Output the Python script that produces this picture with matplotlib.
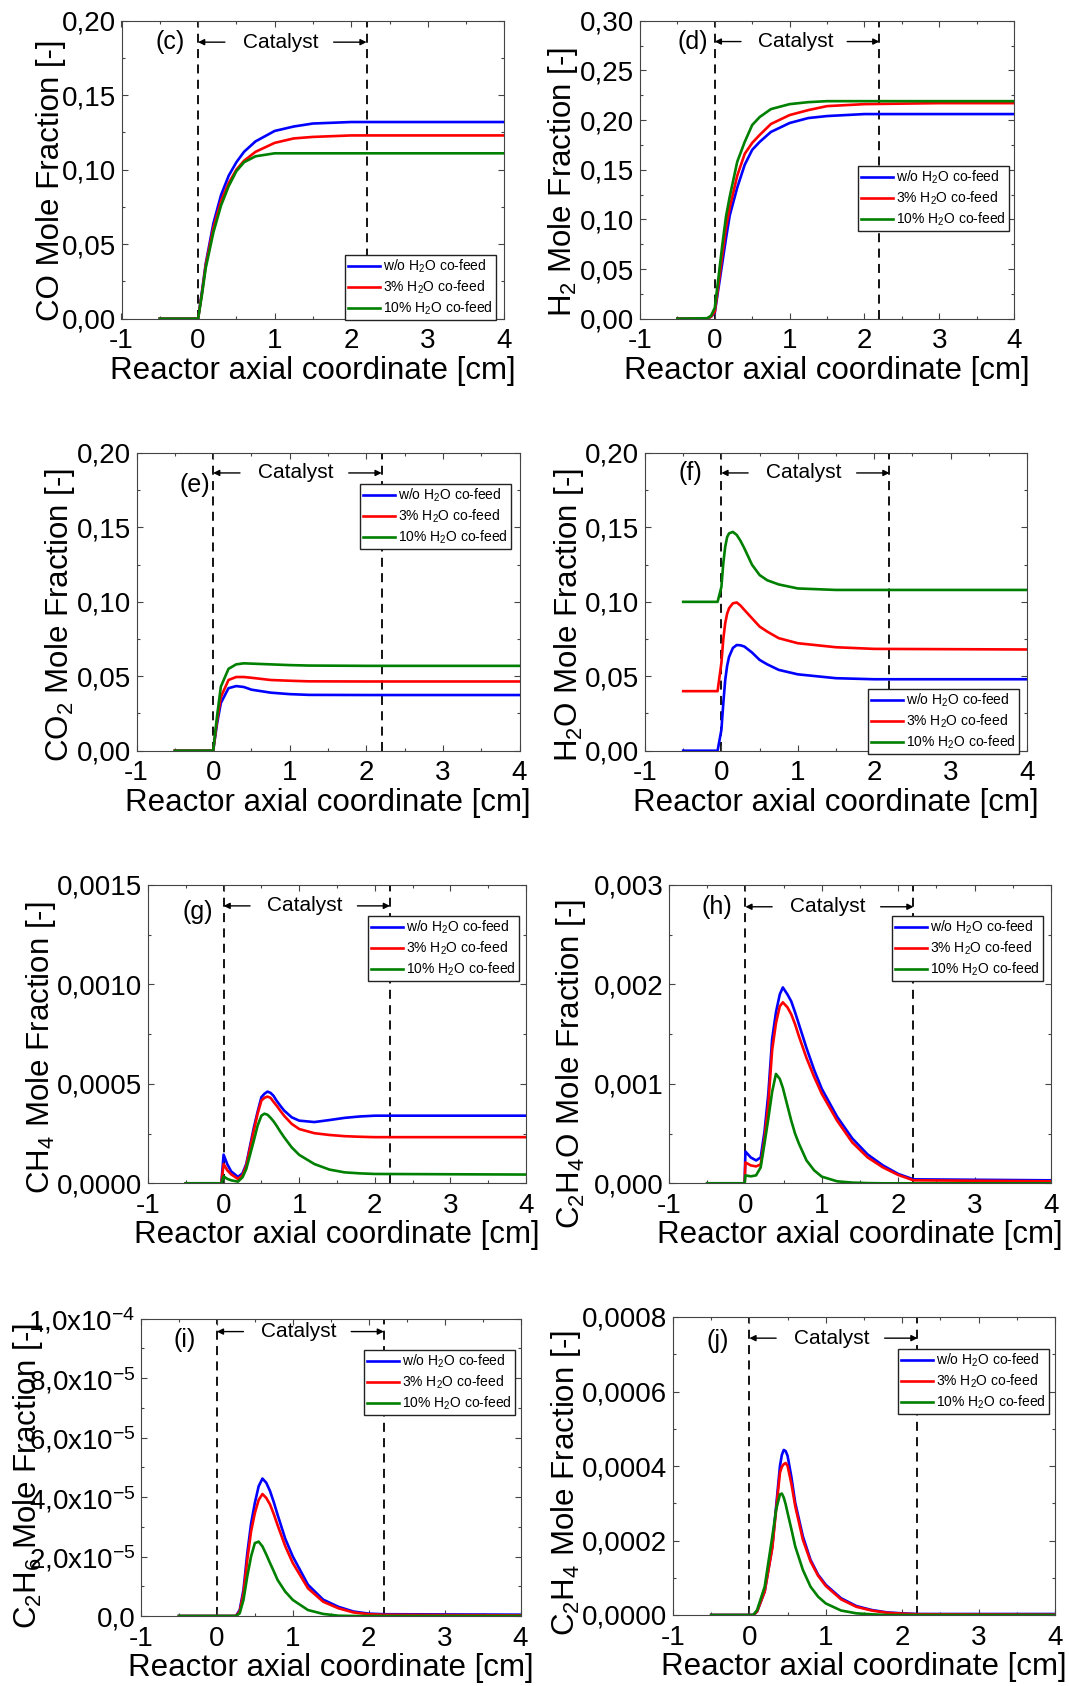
import numpy as np
import matplotlib
matplotlib.use('Agg')
import matplotlib.pyplot as plt
from matplotlib.ticker import MultipleLocator, FuncFormatter

plt.rcParams['font.family'] = ['Liberation Sans', 'DejaVu Sans']
plt.rcParams['mathtext.fontset'] = 'custom'
plt.rcParams['mathtext.rm'] = 'Liberation Sans'
plt.rcParams['mathtext.it'] = 'Liberation Sans:italic'
plt.rcParams['mathtext.bf'] = 'Liberation Sans:bold'
plt.rcParams['axes.unicode_minus'] = False

# %% Data
labels = ['w/o H$_2$O co-feed', '3% H$_2$O co-feed', '10% H$_2$O co-feed']
colors = ['#0000ff', '#ff0000', '#008000']

# (c) CO
x_co = [-0.5, 0, 0.05, 0.1, 0.2, 0.3, 0.4, 0.5, 0.6, 0.75, 1.0, 1.25, 1.5, 2.0, 3.0, 4.0]
co_wo = [0, 0, 0.018, 0.037, 0.064, 0.083, 0.096, 0.105, 0.112, 0.119, 0.126, 0.129, 0.131, 0.132, 0.132, 0.132]
co_3 = [0, 0, 0.017, 0.036, 0.061, 0.079, 0.091, 0.100, 0.106, 0.112, 0.118, 0.121, 0.122, 0.123, 0.123, 0.123]
co_10 = [0, 0, 0.016, 0.034, 0.058, 0.076, 0.089, 0.099, 0.105, 0.109, 0.111, 0.111, 0.111, 0.111, 0.111, 0.111]

# (d) H2
x_h2 = [-0.5, -0.1, -0.05, 0, 0.05, 0.1, 0.15, 0.2, 0.3, 0.4, 0.5, 0.6, 0.75, 1.0, 1.25, 1.5, 2.0, 3.0, 4.0]
h2_wo = [0, 0.0002, 0.002, 0.006, 0.031, 0.056, 0.081, 0.104, 0.132, 0.155, 0.170, 0.178, 0.188, 0.197, 0.202, 0.204, 0.206, 0.206, 0.206]
h2_3 = [0, 0.0003, 0.002, 0.007, 0.035, 0.064, 0.092, 0.112, 0.144, 0.166, 0.177, 0.185, 0.196, 0.205, 0.210, 0.214, 0.216, 0.217, 0.217]
h2_10 = [0, 0.0005, 0.003, 0.011, 0.042, 0.074, 0.103, 0.123, 0.158, 0.178, 0.195, 0.203, 0.211, 0.216, 0.218, 0.219, 0.219, 0.219, 0.219]

# (e) CO2
x_co2 = [-0.5, 0, 0.05, 0.1, 0.2, 0.3, 0.4, 0.5, 0.75, 1.0, 1.25, 2.0, 4.0]
co2_wo = [0, 0, 0.018, 0.032, 0.042, 0.0434, 0.0428, 0.041, 0.039, 0.038, 0.0375, 0.0374, 0.0374]
co2_3 = [0, 0, 0.020, 0.036, 0.0475, 0.0495, 0.0495, 0.049, 0.0475, 0.047, 0.0466, 0.0465, 0.0465]
co2_10 = [0, 0, 0.023, 0.043, 0.055, 0.058, 0.0587, 0.0585, 0.058, 0.0575, 0.0572, 0.057, 0.057]

# (f) H2O
x_h2o = [-0.5, -0.05, 0, 0.025, 0.05, 0.075, 0.1, 0.15, 0.2, 0.25, 0.3, 0.4, 0.5, 0.6, 0.75, 1.0, 1.5, 2.0, 4.0]
h2o_wo = [0, 0, 0.014, 0.032, 0.0475, 0.057, 0.063, 0.069, 0.071, 0.0708, 0.070, 0.066, 0.061, 0.058,
          0.0543, 0.0513, 0.0487, 0.048, 0.048]
h2o_3 = [0.04, 0.04, 0.059, 0.075, 0.0857, 0.092, 0.0957, 0.099, 0.0996, 0.0975, 0.0946, 0.089, 0.0834, 0.080,
         0.0756, 0.0722, 0.0695, 0.0684, 0.068]
h2o_10 = [0.1, 0.1, 0.110, 0.126, 0.137, 0.1435, 0.146, 0.147, 0.145, 0.141, 0.136, 0.125, 0.118, 0.1145,
          0.1117, 0.109, 0.108, 0.108, 0.108]

# (g) CH4
x_ch4 = [-0.5, -0.03, 0, 0.05, 0.1, 0.19, 0.25, 0.3, 0.4, 0.45, 0.5, 0.54, 0.58, 0.62, 0.66, 0.7, 0.75, 0.8,
         0.9, 1.0, 1.2, 1.4, 1.6, 1.8, 2.0, 4.0]
ch4_wo = [0, 0, 0.000144, 0.000095, 0.000060, 0.000032, 0.00005, 0.000097, 0.00028, 0.00036, 0.000433,
          0.00045, 0.000461, 0.000455, 0.00044, 0.000416, 0.00039, 0.000366, 0.000332, 0.000315, 0.000308,
          0.000318, 0.000329, 0.000336, 0.00034, 0.00034]
ch4_3 = [0, 0, 0.000097, 0.000065, 0.000045, 0.000022, 0.00004, 0.000089, 0.000265, 0.00035, 0.000416,
         0.00043, 0.000436, 0.00043, 0.00041, 0.000391, 0.000365, 0.00034, 0.000299, 0.000273, 0.000252,
         0.000243, 0.000237, 0.000234, 0.000232, 0.000232]
ch4_10 = [0, 0, 0.000035, 0.000022, 0.000015, 0.0000084, 0.00003, 0.000072, 0.000215, 0.00029, 0.00034,
          0.00035, 0.000345, 0.00033, 0.000312, 0.00029, 0.00026, 0.000232, 0.000181, 0.000143, 0.000097,
          0.000069, 0.000055, 0.00005, 0.000047, 0.000044]

# (h) C2H4O
x_c2h4o = [-0.5, -0.01, 0, 0.07, 0.14, 0.2, 0.25, 0.3, 0.35, 0.4, 0.45, 0.49, 0.55, 0.6, 0.65, 0.7, 0.8,
           0.9, 1.0, 1.2, 1.4, 1.6, 1.8, 2.0, 2.2, 4.0]
c2h4o_wo = [0, 0, 0.00032, 0.00026, 0.00023, 0.00026, 0.00052, 0.0009, 0.00145, 0.00172, 0.0019, 0.00197,
            0.0019, 0.00183, 0.00172, 0.0016, 0.00136, 0.00114, 0.00095, 0.00067, 0.00045, 0.00029,
            0.00018, 0.000094, 0.00004, 0.00003]
c2h4o_3 = [0, 0, 0.00021, 0.00018, 0.00017, 0.00019, 0.00045, 0.0008, 0.00134, 0.00161, 0.00178, 0.00182,
           0.00177, 0.0017, 0.0016, 0.00148, 0.00126, 0.00107, 0.0009, 0.00063, 0.00041, 0.00026,
           0.00016, 0.000084, 0.00003, 0.00002]
c2h4o_10 = [0, 0, 0.00008, 0.00007, 0.00008, 0.00016, 0.0004, 0.00065, 0.00092, 0.0011, 0.00105, 0.00096,
            0.00078, 0.00063, 0.0005, 0.0004, 0.00023, 0.00013, 0.000067, 0.00002, 0.000007, 0.000002,
            0, 0, 0, 0]

# (i) C2H6
x_c2h6 = [-0.5, 0.25, 0.3, 0.35, 0.4, 0.45, 0.5, 0.55, 0.6, 0.65, 0.7, 0.75, 0.8, 0.9, 1.0, 1.2, 1.4, 1.6,
          1.8, 2.0, 2.2, 4.0]
c2h6_wo = [0, 0, 2e-6, 8.8e-6, 2.1e-5, 3.1e-5, 3.8e-5, 4.36e-5, 4.62e-5, 4.48e-5, 4.2e-5, 3.82e-5, 3.4e-5,
           2.6e-5, 2.0e-5, 1.05e-5, 5.5e-6, 3.1e-6, 1.5e-6, 8e-7, 6e-7, 4.5e-7]
c2h6_3 = [0, 0, 1.5e-6, 7.6e-6, 1.89e-5, 2.84e-5, 3.46e-5, 3.9e-5, 4.1e-5, 3.97e-5, 3.75e-5, 3.42e-5,
          3.05e-5, 2.35e-5, 1.78e-5, 9.3e-6, 4.8e-6, 2.6e-6, 1.2e-6, 6e-7, 4e-7, 2e-7]
c2h6_10 = [0, 0, 9e-7, 5.4e-6, 1.33e-5, 2.0e-5, 2.45e-5, 2.5e-5, 2.34e-5, 2.07e-5, 1.78e-5, 1.5e-5,
           1.21e-5, 8.2e-6, 5.4e-6, 2e-6, 7e-7, 1e-7, 0, 0, 0, 0]

# (j) C2H4
x_c2h4 = [-0.5, 0.05, 0.1, 0.2, 0.3, 0.35, 0.4, 0.425, 0.45, 0.475, 0.5, 0.55, 0.6, 0.7, 0.8, 0.9, 1.0,
          1.2, 1.4, 1.6, 1.8, 2.0, 2.2, 4.0]
c2h4_wo = [0, 0, 9e-6, 6.3e-5, 0.000184, 0.000292, 0.0004, 0.00043, 0.000443, 0.00044, 0.000427, 0.00037,
           0.000301, 0.000211, 0.000148, 0.000108, 8.1e-5, 4.5e-5, 2.4e-5, 1.35e-5, 7e-6, 4.5e-6,
           2.7e-6, 2.7e-6]
c2h4_3 = [0, 0, 9e-6, 6.3e-5, 0.00018, 0.000283, 0.000382, 0.000398, 0.000405, 0.000408, 0.0004, 0.000352,
          0.000292, 0.000202, 0.000144, 0.000105, 7.8e-5, 4.2e-5, 2.2e-5, 1.2e-5, 6e-6, 3.6e-6, 2e-6, 1e-6]
c2h4_10 = [0, 0, 1.3e-5, 7.6e-5, 0.000211, 0.000283, 0.000324, 0.000326, 0.000315, 0.000297, 0.000274,
           0.00023, 0.000184, 0.000121, 7.6e-5, 4.9e-5, 3.1e-5, 1.2e-5, 4.5e-6, 1.8e-6, 0, 0, 0, 0]


# %% Formatters
def comma_fmt(dec):
    def f(v, pos):
        if abs(v) < 1e-12:
            v = 0.0
        return f'{v:.{dec}f}'.replace('.', ',')
    return FuncFormatter(f)


def sci_fmt(v, pos):
    if abs(v) < 1e-12:
        return '0,0'
    e = int(np.floor(np.log10(abs(v)) + 1e-9))
    m = v / 10**e
    return f'{m:.1f}'.replace('.', ',') + 'x10$^{' + str(e) + '}$'


# %% Figure
W, H = 1069, 1686
fig = plt.figure(figsize=(W / 100, H / 100), dpi=100)

panels = [
    dict(tag='(c)', ylab='CO Mole Fraction [-]', x=x_co, ys=[co_wo, co_3, co_10],
         ylim=0.20, maj=0.05, fmt=comma_fmt(2), box=(121.5, 20.7, 504.4, 318.7), leg=(345, 255),
         ylpos=(-0.184, 0.465), tpos=(-0.36, 0.928), cy=0.928),
    dict(tag='(d)', ylab='H$_2$ Mole Fraction [-]', x=x_h2, ys=[h2_wo, h2_3, h2_10],
         ylim=0.30, maj=0.05, fmt=comma_fmt(2), box=(640, 20.7, 1014, 318.7), leg=(858, 166),
         ylpos=(-0.207, 0.46), tpos=(-0.29, 0.93), cy=0.93),
    dict(tag='(e)', ylab='CO$_2$ Mole Fraction [-]', x=x_co2, ys=[co2_wo, co2_3, co2_10],
         ylim=0.20, maj=0.05, fmt=comma_fmt(2), box=(136.6, 453, 519.5, 750.7), leg=(360, 484),
         ylpos=(-0.199, 0.455), tpos=(-0.24, 0.893), cy=0.933),
    dict(tag='(f)', ylab='H$_2$O Mole Fraction [-]', x=x_h2o, ys=[h2o_wo, h2o_3, h2o_10],
         ylim=0.20, maj=0.05, fmt=comma_fmt(2), box=(645, 453, 1027, 750.7), leg=(868, 689),
         ylpos=(-0.198, 0.455), tpos=(-0.41, 0.933), cy=0.933),
    dict(tag='(g)', ylab='CH$_4$ Mole Fraction [-]', x=x_ch4, ys=[ch4_wo, ch4_3, ch4_10],
         ylim=0.0015, maj=0.0005, fmt=comma_fmt(4), box=(148, 885, 526, 1183.3), leg=(368, 916),
         ylpos=(-0.284, 0.455), tpos=(-0.34, 0.911), cy=0.93),
    dict(tag='(h)', ylab='C$_2$H$_4$O Mole Fraction [-]', x=x_c2h4o, ys=[c2h4o_wo, c2h4o_3, c2h4o_10],
         ylim=0.003, maj=0.001, fmt=comma_fmt(3), box=(669, 885, 1051, 1183.3), leg=(892, 916),
         ylpos=(-0.256, 0.40), tpos=(-0.37, 0.927), cy=0.927),
    dict(tag='(i)', ylab='C$_2$H$_6$ Mole Fraction [-]', x=x_c2h6, ys=[c2h6_wo, c2h6_3, c2h6_10],
         ylim=1.0e-4, maj=2.0e-5, fmt=FuncFormatter(sci_fmt), box=(141, 1318.5, 520.5, 1616), leg=(364, 1350),
         ylpos=(-0.297, 0.47), tpos=(-0.43, 0.928), cy=0.956),
    dict(tag='(j)', ylab='C$_2$H$_4$ Mole Fraction [-]', x=x_c2h4, ys=[c2h4_wo, c2h4_3, c2h4_10],
         ylim=0.0008, maj=0.0002, fmt=comma_fmt(4), box=(673, 1317, 1055, 1615), leg=(898, 1349),
         ylpos=(-0.28, 0.444), tpos=(-0.41, 0.921), cy=0.929),
]

spine_c = '#444444'
for p in panels:
    l, t, r, b = p['box']
    ax = fig.add_axes([l / W, 1 - b / H, (r - l) / W, (b - t) / H])
    for y, c, lab in zip(p['ys'], colors, labels):
        ax.plot(p['x'], y, color=c, lw=1.9, label=lab, solid_joinstyle='round')

    ax.set_xlim(-1, 4)
    ax.set_ylim(0, p['ylim'])
    ax.xaxis.set_major_locator(MultipleLocator(1))
    ax.xaxis.set_minor_locator(MultipleLocator(0.5))
    ax.yaxis.set_major_locator(MultipleLocator(p['maj']))
    ax.yaxis.set_minor_locator(MultipleLocator(p['maj'] / 2))
    ax.yaxis.set_major_formatter(p['fmt'])
    ax.tick_params(which='both', direction='in', top=True, right=True, color=spine_c, width=0.8)
    ax.tick_params(which='major', length=4, labelsize=20)
    ax.tick_params(which='minor', length=2.2)
    ax.tick_params(axis='x', which='major', pad=7)
    ax.tick_params(axis='y', which='major', pad=4)
    for s in ax.spines.values():
        s.set_color(spine_c)
        s.set_linewidth(0.8)

    ax.set_xlabel('Reactor axial coordinate [cm]', fontsize=22.5, labelpad=1)
    ax.set_ylabel(p['ylab'], fontsize=22.5, va='center')
    ax.yaxis.set_label_coords(*p['ylpos'])

    # catalyst zone
    for xv in (0, 2.2):
        ax.axvline(xv, color='k', lw=1.3, ls=(0, (5, 3.5)), zorder=1)
    tr = ax.get_xaxis_transform()
    ax.text(1.08, p['cy'], 'Catalyst', transform=tr, fontsize=15, ha='center', va='center')
    ax.annotate('', xy=(0, p['cy']), xytext=(0.35, p['cy']), xycoords=tr, textcoords=tr,
                arrowprops=dict(arrowstyle='-|>', lw=1, color='k', mutation_scale=9, shrinkA=0, shrinkB=0))
    ax.annotate('', xy=(2.2, p['cy']), xytext=(1.77, p['cy']), xycoords=tr, textcoords=tr,
                arrowprops=dict(arrowstyle='-|>', lw=1, color='k', mutation_scale=9, shrinkA=0, shrinkB=0))
    ax.text(p['tpos'][0], p['tpos'][1], p['tag'], transform=tr, fontsize=18, ha='center', va='center')

    lx, ly = p['leg']
    leg = ax.legend(loc='upper left', bbox_to_anchor=(lx / W, 1 - ly / H), bbox_transform=fig.transFigure,
                    fontsize=10, frameon=True, fancybox=False, framealpha=1, edgecolor='#222222',
                    borderaxespad=0, borderpad=0.2, handlelength=2.3, handletextpad=0.25, labelspacing=0.25)
    leg.get_frame().set_linewidth(1.0)

plt.savefig('out.png', dpi=100)
